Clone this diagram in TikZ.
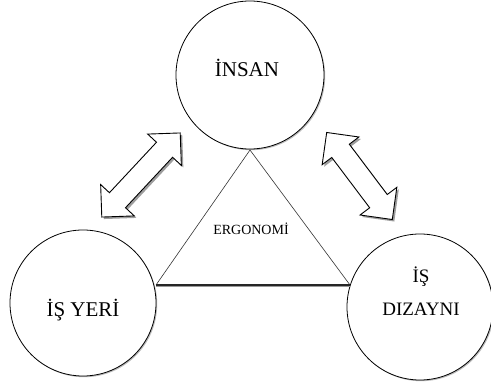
\documentclass[tikz,border=0pt]{standalone}
\usepackage{fontspec}
\setmainfont{Liberation Serif}
\usetikzlibrary{shadows}
\begin{document}
\begin{tikzpicture}[x=1pt,y=1pt,
  bubble/.style={circle,draw=black,line width=0.8pt,fill=white,inner sep=0pt,
    drop shadow={shadow xshift=1.2pt,shadow yshift=-1.2pt,fill=black!45,opacity=.6}},
  lbl/.style={anchor=base,inner sep=0pt,font=\fontsize{21}{24}\selectfont},
  blockarrow/.style={draw=black,line width=0.9pt,fill=white,line join=miter,
    drop shadow={shadow xshift=2pt,shadow yshift=-2pt,fill=black!55,opacity=.7}},
  side/.style={draw=black!80,line width=0.6pt}
]
\useasboundingbox (0,0) rectangle (491,389);
% circles
\node[bubble,minimum size=148pt] (insan) at (250,314) {};
\node[bubble,minimum size=146pt] (isyeri) at (83,86) {};
\node[bubble,minimum size=146pt] (dizayn) at (420,82) {};
% labels
\node[lbl] (tinsan) at (247,312) {İNSAN};
\node[lbl] (tisyeri) at (83,72) {İŞ YERİ};
\node[lbl,font=\fontsize{19}{22}\selectfont] (tis) at (421,106) {İŞ};
\node[lbl,font=\fontsize{19}{22}\selectfont] (tdiz) at (421,74) {DIZAYNI};
% triangle
\coordinate (apex) at (250,239);
\coordinate (bl) at (156,104);
\coordinate (br) at (350,104);
\draw[side] (bl) -- (apex) -- (br);
\draw[black!40,line width=2pt] ([yshift=-1.5pt]bl) -- ([yshift=-1.5pt]br);
\draw[black!85,line width=1.6pt] (bl) -- (br);
\node[anchor=base,inner sep=0pt,font=\fontsize{14}{16}\selectfont] (ergo) at (251,154) {ERGONOMİ};
% double block arrows
\begin{scope}[shift={(141,214)},rotate=47]
  \path[blockarrow] (-57.5,0) -- (-34.5,23) -- (-34.5,11) -- (34.5,11) -- (34.5,23)
    -- (57.5,0) -- (34.5,-23) -- (34.5,-11) -- (-34.5,-11) -- (-34.5,-23) -- cycle;
\end{scope}
\begin{scope}[shift={(359.5,213)},rotate=-53]
  \path[blockarrow] (-54.5,0) -- (-31.5,23) -- (-31.5,11) -- (31.5,11) -- (31.5,23)
    -- (54.5,0) -- (31.5,-23) -- (31.5,-11) -- (-31.5,-11) -- (-31.5,-23) -- cycle;
\end{scope}
\end{tikzpicture}
\end{document}
